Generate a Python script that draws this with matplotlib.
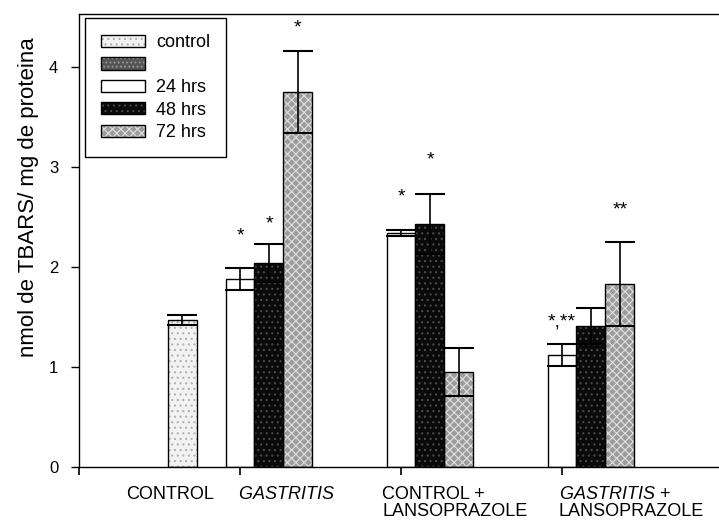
import numpy as np
import matplotlib
matplotlib.use('Agg')
import matplotlib.pyplot as plt
from matplotlib.patches import Patch
from matplotlib.legend_handler import HandlerTuple

plt.rcParams['font.family'] = ['Liberation Sans', 'DejaVu Sans']
plt.rcParams['mathtext.fontset'] = 'custom'
plt.rcParams['mathtext.it'] = 'Liberation Sans:italic'
plt.rcParams['mathtext.rm'] = 'Liberation Sans'
plt.rcParams['hatch.linewidth'] = 0.8

# ---------------- data ----------------
group_labels = ['CONTROL', '$\\mathit{GASTRITIS}$',
                'CONTROL +\nLANSOPRAZOLE', '$\\mathit{GASTRITIS}$ +\nLANSOPRAZOLE']
legend_labels = ['control', '', '24 hrs', '48 hrs', '72 hrs']
y_ticks = [0, 1, 2, 3, 4]
y_label = 'nmol de TBARS/ mg de proteina'

control_mean = [1.47]
control_sem = [0.05]
hrs24_mean = [1.88, 2.34, 1.12]
hrs24_sem = [0.11, 0.03, 0.11]
hrs48_mean = [2.04, 2.43, 1.41]
hrs48_sem = [0.19, 0.30, 0.18]
hrs72_mean = [3.75, 0.95, 1.83]
hrs72_sem = [0.41, 0.24, 0.42]

# significance marks: text, series, treatment index, height
sig_text = ['*', '*', '*', '*', '*', '*,**', '**']
sig_series = ['24', '48', '72', '24', '48', '24', '72']
sig_group = [0, 0, 0, 1, 1, 2, 2]
sig_y = [2.31, 2.43, 4.39, 2.70, 3.07, 1.45, 2.57]

# ---------------- layout ----------------
fig = plt.figure(figsize=(7.19, 5.21), dpi=100)
ax = fig.add_axes([79/719, 54/521, 640/719, 453/521])

w = 0.18
tick_pos = np.arange(4)            # x-axis tick marks
treat_pos = tick_pos[1:]           # groups with time series
slot = {'control': -2, '24': 0, '48': 1, '72': 2}

styles = {
    'control': dict(face='#f2f2f2', hatch='...', hc='#b0b0b0'),
    'blank':   dict(face='#555555', hatch='....', hc='#9a9a9a'),
    '24':      dict(face='white', hatch=None, hc='white'),
    '48':      dict(face='#0a0a0a', hatch='...', hc='#4a4a4a'),
    '72':      dict(face='#9c9c9c', hatch='xxxx', hc='#e0e0e0'),
}

def draw(xs, vals, errs, st):
    ax.bar(xs, vals, w, color=st['face'], edgecolor=st['hc'], hatch=st['hatch'],
           linewidth=0, zorder=2)
    ax.bar(xs, vals, w, fill=False, edgecolor='black', linewidth=1.0, zorder=3)
    ax.errorbar(xs, vals, yerr=errs, fmt='none', ecolor='black', elinewidth=1.2,
                capsize=11, capthick=1.5, zorder=4)

draw(tick_pos[1] + slot['control'] * w, control_mean, control_sem, styles['control'])
draw(treat_pos + slot['24'] * w, hrs24_mean, hrs24_sem, styles['24'])
draw(treat_pos + slot['48'] * w, hrs48_mean, hrs48_sem, styles['48'])
draw(treat_pos + slot['72'] * w, hrs72_mean, hrs72_sem, styles['72'])

for t, s, g, y in zip(sig_text, sig_series, sig_group, sig_y):
    ax.text(treat_pos[g] + slot[s] * w, y, t, ha='center', va='center',
            fontsize=14, color='black', zorder=5)

# axes
ax.set_xlim(0, 640/161)
ax.set_ylim(0, 4.53)
ax.set_yticks(y_ticks)
ax.set_yticklabels([str(v) for v in y_ticks])
ax.tick_params(axis='y', direction='out', length=6, width=1, pad=9, labelsize=12)

label_pos = [0.565, 1.29, 2.335, 3.43]
ax.set_xticks(label_pos)
ax.set_xticklabels(group_labels, multialignment='left', linespacing=1.0)
ax.tick_params(axis='x', which='major', length=0, pad=14, labelsize=13)
ax.set_xticks(tick_pos, minor=True)
ax.tick_params(axis='x', which='minor', direction='out', length=6, width=1.2)

for sp in ['left', 'bottom', 'top']:
    ax.spines[sp].set_linewidth(1.0)
ax.spines['right'].set_visible(False)

ax.set_ylabel(y_label, fontsize=16)
ax.yaxis.set_label_coords(-0.062, 0.596)

# legend
handles = []
for key in ['control', 'blank', '24', '48', '72']:
    st = styles[key]
    handles.append((Patch(facecolor=st['face'], edgecolor=st['hc'], hatch=st['hatch'], linewidth=0),
                    Patch(fill=False, edgecolor='black', linewidth=1.0)))
leg = ax.legend(handles, legend_labels, handler_map={tuple: HandlerTuple(ndivide=1)},
                loc='upper left', bbox_to_anchor=(0.009, 0.991), borderaxespad=0,
                fontsize=13, handlelength=2.45, handleheight=0.67, labelspacing=0.3,
                handletextpad=0.6, borderpad=0.9, fancybox=False, framealpha=1,
                edgecolor='black')
leg.get_frame().set_linewidth(1.0)

fig.savefig('out.png', dpi=100)
